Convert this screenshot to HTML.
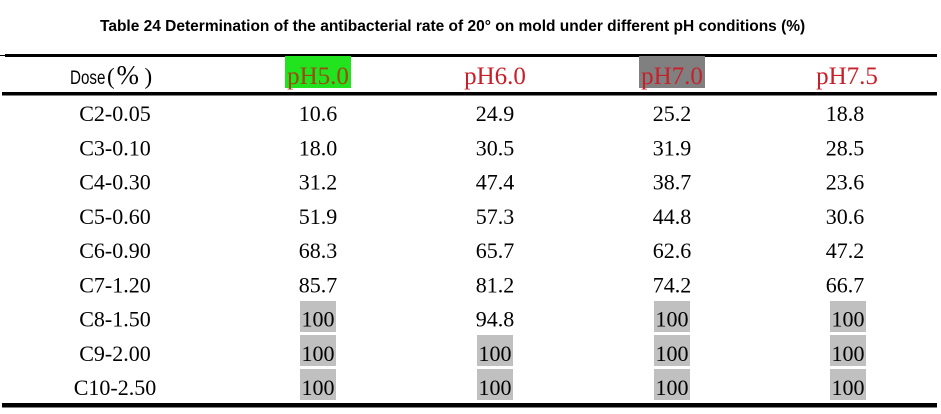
<!DOCTYPE html>
<html>
<head>
<meta charset="utf-8">
<style>
  html,body{margin:0;padding:0;background:#fff;}
  body{width:941px;height:414px;overflow:hidden;}
  svg{display:block;}
  .b{font-family:"Liberation Serif",serif;font-size:22px;fill:#000;}
  .h{font-family:"Liberation Serif",serif;font-size:25px;fill:#c8202a;}
  .t{font-family:"Liberation Sans",sans-serif;font-weight:bold;font-size:15.5px;fill:#000;}
  .p{font-family:"Liberation Serif",serif;font-size:23px;fill:#000;}
  .pc{font-family:"Liberation Serif",serif;font-size:27px;fill:#000;}
</style>
</head>
<body>
<svg width="941" height="414" viewBox="0 0 941 414" xmlns="http://www.w3.org/2000/svg">
  <rect x="0" y="0" width="941" height="414" fill="#fff"/>
  <!-- Title -->
  <text x="100" y="31" class="t">Table 24 Determination of the antibacterial rate of 20° on mold under different pH conditions (%)</text>

  <!-- rules -->
  <rect x="0" y="55" width="5" height="1" fill="#000"/>
  <rect x="5" y="54" width="932" height="3" fill="#000"/>
  <rect x="2" y="92" width="935" height="3.5" fill="#000"/>
  <rect x="2" y="403" width="935" height="4.5" fill="#000"/>

  <!-- header highlights -->
  <rect x="285" y="56" width="66" height="32" fill="#22e41e"/>
  <rect x="639" y="56" width="66" height="32" fill="#808080"/>

  <!-- header text -->
  <g transform="translate(70,84) scale(0.8,1)">
    <text x="0" y="0" font-family="Liberation Sans, sans-serif" font-size="19" fill="#000" style="font-family:'Liberation Sans',sans-serif;font-size:19px;">Dose</text>
  </g>
  <text x="107" y="84" class="p">(</text>
  <text x="116.5" y="84" class="pc">%</text>
  <text x="144.5" y="84" class="p">)</text>
  <text x="318" y="84" class="h" text-anchor="middle" style="fill:#9b4a14">pH5.0</text>
  <text x="495" y="84" class="h" text-anchor="middle">pH6.0</text>
  <text x="672" y="84" class="h" text-anchor="middle">pH7.0</text>
  <text x="847" y="84" class="h" text-anchor="middle">pH7.5</text>

  <!-- grey highlight boxes -->
  <g fill="#c0c0c0">
    <rect x="300" y="301" width="36" height="31"/>
    <rect x="654" y="301" width="36" height="31"/>
    <rect x="830" y="301" width="36" height="31"/>
    <rect x="300" y="335" width="36" height="31"/>
    <rect x="477" y="335" width="36" height="31"/>
    <rect x="654" y="335" width="36" height="31"/>
    <rect x="830" y="335" width="36" height="31"/>
    <rect x="300" y="369" width="36" height="31"/>
    <rect x="477" y="369" width="36" height="31"/>
    <rect x="654" y="369" width="36" height="31"/>
    <rect x="830" y="369" width="36" height="31"/>
  </g>

  <!-- body -->
  <g class="b" text-anchor="middle">
    <text x="115" y="121">C2-0.05</text>
    <text x="318" y="121">10.6</text>
    <text x="495" y="121">24.9</text>
    <text x="672" y="121">25.2</text>
    <text x="845" y="121">18.8</text>

    <text x="115" y="155.25">C3-0.10</text>
    <text x="318" y="155.25">18.0</text>
    <text x="495" y="155.25">30.5</text>
    <text x="672" y="155.25">31.9</text>
    <text x="845" y="155.25">28.5</text>

    <text x="115" y="189.5">C4-0.30</text>
    <text x="318" y="189.5">31.2</text>
    <text x="495" y="189.5">47.4</text>
    <text x="672" y="189.5">38.7</text>
    <text x="845" y="189.5">23.6</text>

    <text x="115" y="223.75">C5-0.60</text>
    <text x="318" y="223.75">51.9</text>
    <text x="495" y="223.75">57.3</text>
    <text x="672" y="223.75">44.8</text>
    <text x="845" y="223.75">30.6</text>

    <text x="115" y="258">C6-0.90</text>
    <text x="318" y="258">68.3</text>
    <text x="495" y="258">65.7</text>
    <text x="672" y="258">62.6</text>
    <text x="845" y="258">47.2</text>

    <text x="115" y="292.25">C7-1.20</text>
    <text x="318" y="292.25">85.7</text>
    <text x="495" y="292.25">81.2</text>
    <text x="672" y="292.25">74.2</text>
    <text x="845" y="292.25">66.7</text>

    <text x="115" y="326.5">C8-1.50</text>
    <text x="318" y="326.5">100</text>
    <text x="495" y="326.5">94.8</text>
    <text x="672" y="326.5">100</text>
    <text x="848" y="326.5">100</text>

    <text x="115" y="360.75">C9-2.00</text>
    <text x="318" y="360.75">100</text>
    <text x="495" y="360.75">100</text>
    <text x="672" y="360.75">100</text>
    <text x="848" y="360.75">100</text>

    <text x="115" y="395">C10-2.50</text>
    <text x="318" y="395">100</text>
    <text x="495" y="395">100</text>
    <text x="672" y="395">100</text>
    <text x="848" y="395">100</text>
  </g>
</svg>
</body>
</html>
